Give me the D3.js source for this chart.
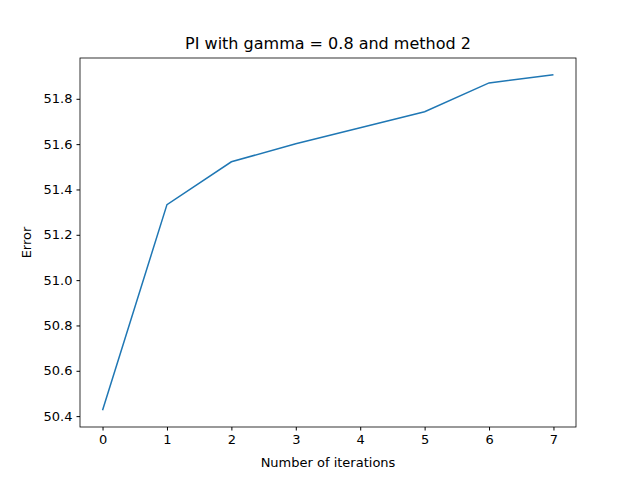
<!DOCTYPE html>
<html><head><meta charset="utf-8">
<script src="https://cdn.jsdelivr.net/npm/d3@7"></script>
<style>body{margin:0;background:#fff}text{font-family:"DejaVu Sans",sans-serif}</style>
</head><body><svg id="c" width="640" height="480"></svg>
<script>
// data
const iterations = [0, 1, 2, 3, 4, 5, 6, 7];
const errors = [50.426, 51.333, 51.522, 51.602, 51.672, 51.743, 51.870, 51.906];
const yTicks = [50.4, 50.6, 50.8, 51.0, 51.2, 51.4, 51.6, 51.8];

const mLeft = 80, mRight = 576, mTop = 58, mBottom = 427;
const svg = d3.select('#c');

const x = d3.scaleLinear().domain([-0.35, 7.35]).range([mLeft, mRight]);
const yMin = d3.min(errors), yMax = d3.max(errors), pad = (yMax - yMin) * 0.05;
const y = d3.scaleLinear().domain([yMin - pad, yMax + pad]).range([mBottom, mTop]);

const xAxis = svg.append('g').attr('transform', `translate(0,${mBottom})`)
    .call(d3.axisBottom(x).tickValues(iterations).tickFormat(d3.format('d')).tickSize(3.5).tickPadding(4));
const yAxis = svg.append('g').attr('transform', `translate(${mLeft},0)`)
    .call(d3.axisLeft(y).tickValues(yTicks).tickFormat(d3.format('.1f')).tickSize(3.5).tickPadding(4));
[xAxis, yAxis].forEach(a => {
    a.selectAll('text').attr('font-size', 13).attr('fill', '#000');
    a.select('.domain').remove();
});

svg.append('rect').attr('x', mLeft).attr('y', mTop).attr('width', mRight - mLeft).attr('height', mBottom - mTop)
    .attr('fill', 'none').attr('stroke', '#000').attr('stroke-width', 0.8);

svg.append('path').datum(errors)
    .attr('d', d3.line().x((d, i) => x(iterations[i])).y(d => y(d)))
    .attr('fill', 'none').attr('stroke', '#1f77b4').attr('stroke-width', 1.5);

svg.append('text').attr('x', (mLeft + mRight) / 2).attr('y', mTop - 9).attr('text-anchor', 'middle')
    .attr('font-size', 16).text('PI with gamma = 0.8 and method 2');
svg.append('text').attr('x', (mLeft + mRight) / 2).attr('y', 467).attr('text-anchor', 'middle')
    .attr('font-size', 13).text('Number of iterations');
svg.append('text').attr('transform', `translate(31,${(mTop + mBottom) / 2}) rotate(-90)`).attr('text-anchor', 'middle')
    .attr('font-size', 13).text('Error');
</script></body></html>
